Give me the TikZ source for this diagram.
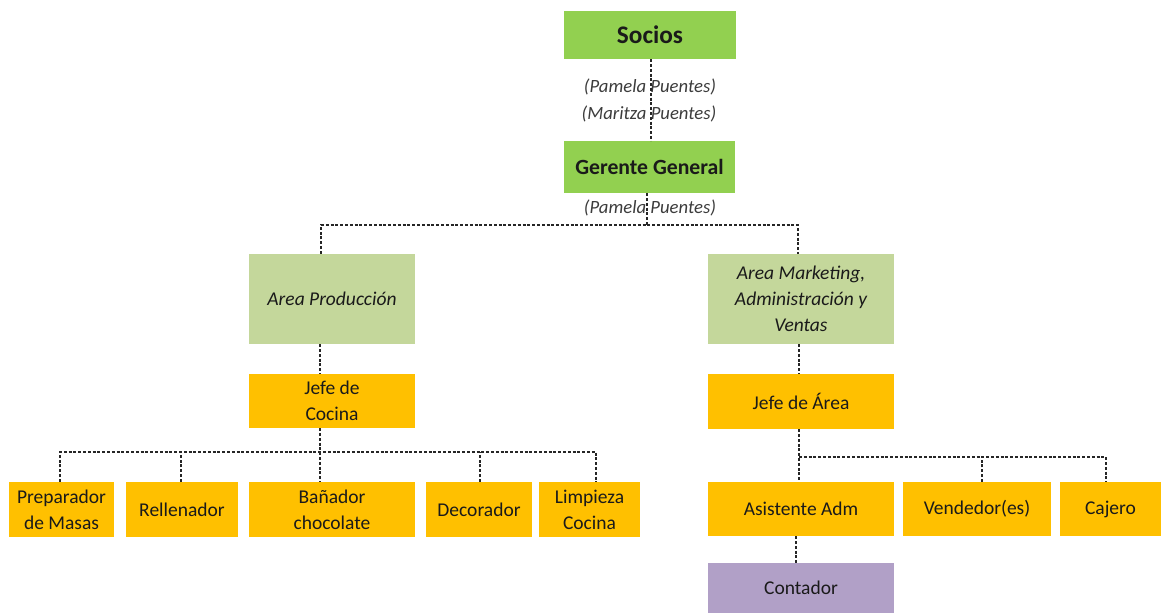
\documentclass[tikz,border=0pt]{standalone}
\usepackage{fontspec}
\setmainfont{Carlito}
\definecolor{topgreen}{HTML}{92D050}
\definecolor{areagreen}{HTML}{C4D79B}
\definecolor{roleorange}{HTML}{FFC000}
\definecolor{acctpurple}{HTML}{B1A0C7}
\definecolor{txt}{HTML}{1A1A1A}
\tikzset{
  box/.style={draw=none, inner sep=2pt, align=center, text=txt,
    font=\fontsize{19.5}{26}\selectfont},
  topbox/.style={box, fill=topgreen},
  areabox/.style={box, fill=areagreen, font=\fontsize{19.5}{26}\selectfont\itshape},
  rolebox/.style={box, fill=roleorange},
  acctbox/.style={box, fill=acctpurple},
  owner/.style={text=txt!85, font=\fontsize{18.7}{27}\selectfont\itshape, inner sep=0pt},
  conn/.style={draw=black!85, line width=1.1pt, dash pattern=on 3pt off 1.8pt},
}
\begin{document}
\begin{tikzpicture}[x=1pt,y=-1pt]
\useasboundingbox (0,0) rectangle (1161,613);

% top management
\node[topbox, minimum width=172pt, minimum height=48pt, font=\fontsize{25.3}{28}\selectfont\bfseries] (socios) at (650,35) {Socios};
\node[topbox, minimum width=171pt, minimum height=52pt, font=\fontsize{21.7}{26}\selectfont\bfseries] (gerente) at (649.5,167) {Gerente General};

% areas
\node[areabox, minimum width=166pt, minimum height=90pt] (prod) at (332,299) {Area Producción};
\node[areabox, minimum width=186pt, minimum height=90pt] (mkt) at (801,299) {Area Marketing,\\Administración y\\Ventas};

% heads of area
\node[rolebox, minimum width=166pt, minimum height=54pt] (jcoc) at (332,401) {Jefe de\\Cocina};
\node[rolebox, minimum width=186pt, minimum height=55pt] (jarea) at (801,401.5) {Jefe de Área};

% production staff
\node[rolebox, minimum width=105pt, minimum height=55pt] (prep) at (61.5,509.5) {Preparador\\de Masas};
\node[rolebox, minimum width=112pt, minimum height=55pt] (rell) at (182,509.5) {Rellenador};
\node[rolebox, minimum width=166pt, minimum height=55pt] (banad) at (332,509.5) {Bañador\\chocolate};
\node[rolebox, minimum width=106pt, minimum height=55pt] (deco) at (479,509.5) {Decorador};
\node[rolebox, minimum width=101pt, minimum height=55pt] (limp) at (589.5,509.5) {Limpieza\\Cocina};

% marketing / administration staff
\node[rolebox, minimum width=186pt, minimum height=54pt] (asis) at (801,509) {Asistente Adm};
\node[rolebox, minimum width=148pt, minimum height=54pt] (vend) at (977,509) {Vendedor(es)};
\node[rolebox, minimum width=101pt, minimum height=54pt] (caj) at (1110.5,509) {Cajero};
\node[acctbox, minimum width=186pt, minimum height=50pt] (cont) at (801,588) {Contador};

% names of the people in charge
\node[owner] (own1) at (650,87) {(Pamela Puentes)};
\node[owner] (own2) at (649,114) {(Maritza Puentes)};
\node[owner] (own3) at (650,208) {(Pamela Puentes)};

% bus heights
\coordinate (busA) at (0,225);
\coordinate (busL) at (0,452);
\coordinate (busR) at (0,457);

% connectors
\draw[conn] ([xshift=1pt]socios.south) -- ([xshift=1pt]socios.south |- gerente.north);
\draw[conn] ([xshift=-2.5pt]gerente.south) -- ([xshift=-2.5pt]gerente.south |- busA);
\draw[conn] ([xshift=-11pt]prod.north) |- ([xshift=-2.5pt]gerente.south |- busA) -| ([xshift=-3pt]mkt.north);

\draw[conn] ([xshift=-12pt]prod.south) -- ([xshift=-12pt]prod.south |- jcoc.north);
\draw[conn] ([xshift=-12pt]jcoc.south) -- ([xshift=-12pt]jcoc.south |- banad.north);
\draw[conn] ([xshift=-1.5pt]prep.north) |- ([xshift=-12pt]jcoc.south |- busL) -| ([xshift=6.5pt]limp.north);
\draw[conn] ([xshift=-1pt]rell.north) -- ([xshift=-1pt]rell.north |- busL);
\draw[conn] ([xshift=1pt]deco.north) -- ([xshift=1pt]deco.north |- busL);

\draw[conn] ([xshift=-2pt]mkt.south) -- ([xshift=-2pt]mkt.south |- jarea.north);
\draw[conn] ([xshift=-2pt]jarea.south) -- ([xshift=-2pt]jarea.south |- asis.north);
\draw[conn] ([xshift=-2pt]jarea.south |- busR) -| ([xshift=-4.5pt]caj.north);
\draw[conn] ([xshift=5pt]vend.north) -- ([xshift=5pt]vend.north |- busR);
\draw[conn] ([xshift=-5pt]asis.south) -- ([xshift=-5pt]asis.south |- cont.north);
\end{tikzpicture}
\end{document}
